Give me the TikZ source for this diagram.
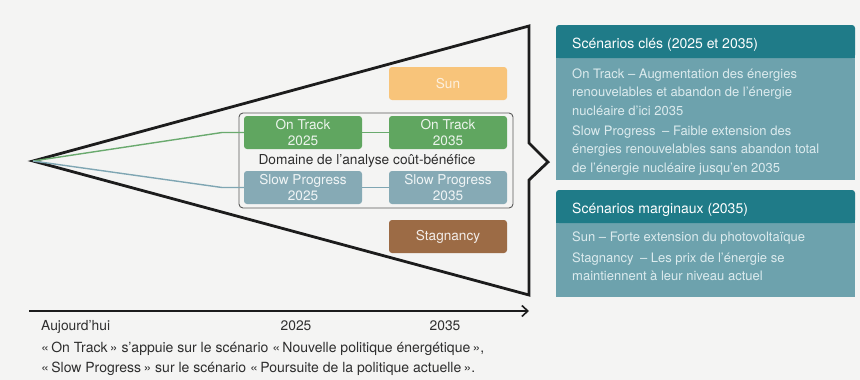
\documentclass[tikz,border=0pt]{standalone}
\usepackage{fontspec}
\setmainfont{TeX Gyre Heros}
\usetikzlibrary{arrows.meta}
\definecolor{bg}{HTML}{F4F4F3}
\definecolor{tri}{HTML}{1C1C1C}
\definecolor{gbox}{HTML}{60A660}
\definecolor{gline}{HTML}{6AAA6E}
\definecolor{bbox}{HTML}{86AAB5}
\definecolor{bline}{HTML}{7FA6B3}
\definecolor{sunc}{HTML}{F8C47A}
\definecolor{stagc}{HTML}{9C6B45}
\definecolor{hdr}{HTML}{1F7B88}
\definecolor{bodyc}{HTML}{6DA2AD}
\definecolor{bodytxt}{HTML}{DCEBEE}
\definecolor{darktxt}{HTML}{2E2E2E}
\tikzset{
  scen/.style={rounded corners=3pt, minimum width=118pt, minimum height=33pt, inner sep=0pt, align=center,
    font=\fontsize{13.6}{15.5}\selectfont},
  gscen/.style={scen, fill=gbox, text=white!88!gbox},
  bscen/.style={scen, fill=bbox, text=white!88!bbox},
  link/.style={line width=1.4pt},
  hdrtext/.style={anchor=base west, inner sep=0pt, text=white, font=\fontsize{14}{16}\selectfont},
  bodytext/.style={anchor=base west, inner sep=0pt, text=bodytxt, font=\fontsize{13}{15}\selectfont},
  axlabel/.style={anchor=base, inner sep=0pt, text=darktxt, font=\fontsize{13.8}{15}\selectfont},
  foot/.style={anchor=base west, inner sep=0pt, text=darktxt, font=\fontsize{14}{15}\selectfont},
}
\begin{document}
\begin{tikzpicture}[x=1pt,y=-1pt]
\fill[bg] (0,0) rectangle (860,380);
\useasboundingbox (0,0) rectangle (860,380);

% funnel
\coordinate (tip) at (33,161);
\coordinate (tr) at (529,26);
\coordinate (cv1) at (529,143);
\coordinate (cvt) at (548,162);
\coordinate (cv2) at (529,180);
\coordinate (br) at (529,295);
\draw[tri, line width=2.8pt, line join=miter] (tip) -- (tr) -- (cv1) -- (cvt) -- (cv2) -- (br) -- cycle;

% domain box
\node[draw=black!65, line width=0.9pt, rounded corners=4pt, minimum width=274pt, minimum height=95pt, inner sep=0pt] (dom) at (376,160.5) {};
\node[inner sep=0pt, text=darktxt, font=\fontsize{13.7}{15}\selectfont] (domlab) at (367,161) {Domaine de l'analyse coût-bénéfice};

% scenario boxes
\node[gscen] (ot25) at (303,132.5) {On Track\\2025};
\node[gscen] (ot35) at (448,132.5) {On Track\\2035};
\node[bscen] (sp25) at (303,187.5) {Slow Progress\\2025};
\node[bscen] (sp35) at (448,187.5) {Slow Progress\\2035};
\node[scen, fill=sunc, text=white!75!sunc] (sun) at (448,83.5) {Sun};
\node[scen, fill=stagc, text=white!88!stagc] (stag) at (448,236.5) {Stagnancy};

% connectors
\coordinate (gb) at (222,132.5);
\coordinate (bb) at (222,187.5);
\draw[link, gline] (tip) -- (gb) -- (ot25.west);
\draw[link, gline] (ot25.east) -- (ot35.west);
\draw[link, bline] (tip) -- (bb) -- (sp25.west);
\draw[link, bline] (sp25.east) -- (sp35.west);

% time axis
\coordinate (ax0) at (29,311);
\coordinate (ax1) at (529,311);
\draw[tri, line width=1.8pt, -{Straight Barb[length=6pt,width=11pt,line width=1.6pt]}] (ax0) -- (ax1);
\node[anchor=base west, inner sep=0pt, text=darktxt, font=\fontsize{13.8}{15}\selectfont] (today) at (41,330) {Aujourd'hui};
\node[axlabel] (y25) at (296,330) {2025};
\node[axlabel] (y35) at (445,330) {2035};

% footnote
\node[foot] (f1) at (41,352) {«\,On Track\,» s'appuie sur le scénario «\,Nouvelle politique énergétique\,»,};
\node[foot] (f2) at (41,372) {«\,Slow Progress\,» sur le scénario «\,Poursuite de la politique actuelle\,».};

% right panel: card 1
\fill[bodyc] (556,50) rectangle (855,180);
\fill[hdr, rounded corners=3pt] (556,25) rectangle (855,58);
\fill[hdr] (556,45) rectangle (855,58);
\node[hdrtext] (h1) at (572,48) {Scénarios clés (2025 et 2035)};
\node[bodytext] (b1) at (572,78) {On Track -- Augmentation des énergies};
\node[bodytext] (b2) at (572,96.5) {renouvelables et abandon de l'énergie};
\node[bodytext] (b3) at (572,115) {nucléaire d'ici 2035};
\node[bodytext] (b4) at (572,135) {Slow Progress\enspace -- Faible extension des};
\node[bodytext] (b5) at (572,153.5) {énergies renouvelables sans abandon total};
\node[bodytext] (b6) at (572,172) {de l'énergie nucléaire jusqu'en 2035};

% right panel: card 2
\fill[bodyc] (556,215) rectangle (855,297);
\fill[hdr, rounded corners=3pt] (556,190) rectangle (855,223);
\fill[hdr] (556,210) rectangle (855,223);
\node[hdrtext] (h2) at (572,213) {Scénarios marginaux (2035)};
\node[bodytext] (c1) at (572,241.5) {Sun -- Forte extension du photovoltaïque};
\node[bodytext] (c2) at (572,262) {Stagnancy\enspace -- Les prix de l'énergie se};
\node[bodytext] (c3) at (572,280.5) {maintiennent à leur niveau actuel};
\end{tikzpicture}
\end{document}
